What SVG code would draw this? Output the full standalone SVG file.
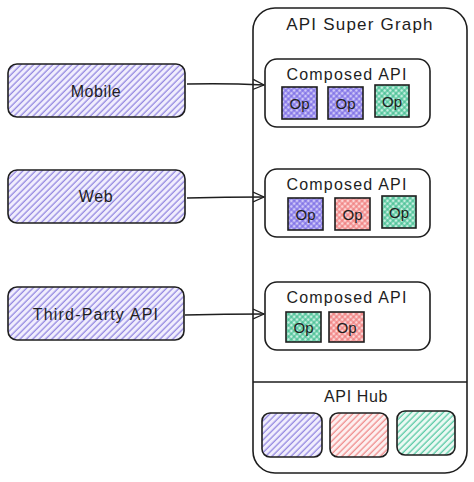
<svg xmlns="http://www.w3.org/2000/svg" width="474" height="482" viewBox="0 0 474 482">
<defs>
<pattern id="hP" width="4.5" height="4.5" patternUnits="userSpaceOnUse" patternTransform="rotate(45)"><rect width="4.5" height="4.5" fill="#f1eefd"/><line x1="2" y1="0" x2="2" y2="4.5" stroke="#8a7ede" stroke-width="1.2"/></pattern>
<pattern id="hR" width="4.5" height="4.5" patternUnits="userSpaceOnUse" patternTransform="rotate(45)"><rect width="4.5" height="4.5" fill="#fdf0f0"/><line x1="2" y1="0" x2="2" y2="4.5" stroke="#ee8484" stroke-width="1.2"/></pattern>
<pattern id="hG" width="4.5" height="4.5" patternUnits="userSpaceOnUse" patternTransform="rotate(45)"><rect width="4.5" height="4.5" fill="#ebf9f3"/><line x1="2" y1="0" x2="2" y2="4.5" stroke="#4cc59e" stroke-width="1.2"/></pattern>
<pattern id="xP" width="4" height="4" patternUnits="userSpaceOnUse" patternTransform="rotate(45)"><rect width="4" height="4" fill="#cfc8f7"/><path d="M2 0V4M0 2H4" stroke="#6f5fe3" stroke-width="1.1"/></pattern>
<pattern id="xR" width="4" height="4" patternUnits="userSpaceOnUse" patternTransform="rotate(45)"><rect width="4" height="4" fill="#fcd6d6"/><path d="M2 0V4M0 2H4" stroke="#ee7070" stroke-width="1.1"/></pattern>
<pattern id="xG" width="4" height="4" patternUnits="userSpaceOnUse" patternTransform="rotate(45)"><rect width="4" height="4" fill="#c6efe0"/><path d="M2 0V4M0 2H4" stroke="#33b887" stroke-width="1.1"/></pattern>
<marker id="arr" viewBox="0 0 12 12" refX="11" refY="6" markerWidth="12" markerHeight="12" markerUnits="userSpaceOnUse" orient="auto"><path d="M0 1 L11 6 L0 11" fill="none" stroke="#1e1e1e" stroke-width="1.3"/></marker>
</defs>
<style>
.b{stroke:#1e1e1e;stroke-width:1.6;}
.t{font-family:"Liberation Sans",Arial,sans-serif;fill:#1e1e1e;text-anchor:middle;dominant-baseline:central;letter-spacing:0.6px;}
.l{font-size:16px;}
.o{font-size:15px;letter-spacing:0;}
.c{fill:none;stroke:#1e1e1e;stroke-width:1.5;}
</style>
<rect width="474" height="482" fill="#ffffff"/>
<g id="supergraph">
<rect class="b" x="253" y="8" width="214" height="465" rx="22" fill="#ffffff"/>
<text class="t" x="360" y="24" font-size="17" style="letter-spacing:1.2px">API Super Graph</text>
</g>
<g id="hub">
<line class="b" x1="253" y1="382" x2="467" y2="382"/>
<text class="t l" x="356" y="396">API Hub</text>
<rect class="b" x="262" y="413" width="60" height="44" rx="8" fill="url(#hP)"/>
<rect class="b" x="330" y="413" width="58" height="44" rx="8" fill="url(#hR)"/>
<rect class="b" x="397" y="411" width="58" height="44" rx="8" fill="url(#hG)"/>
</g>
<g id="mobile">
<rect class="b" x="8" y="64" width="177" height="53" rx="9" fill="url(#hP)"/>
<text class="t l" x="96" y="91">Mobile</text>
</g>
<g id="web">
<rect class="b" x="8" y="170" width="177" height="53" rx="9" fill="url(#hP)"/>
<text class="t l" x="96" y="196">Web</text>
</g>
<g id="thirdparty">
<rect class="b" x="8" y="287" width="176" height="53" rx="9" fill="url(#hP)"/>
<text class="t l" x="96" y="314" style="letter-spacing:1.2px">Third-Party API</text>
</g>
<g id="composed1">
<rect class="b" x="265" y="59" width="165" height="68" rx="12" fill="#ffffff"/>
<text class="t l" x="347" y="74" style="letter-spacing:1.2px">Composed API</text>
<rect class="b" x="282" y="87" width="35" height="32" fill="url(#xP)"/>
<text class="t o" x="299.5" y="103">Op</text>
<rect class="b" x="328" y="87" width="35" height="32" fill="url(#xP)"/>
<text class="t o" x="345.5" y="103">Op</text>
<rect class="b" x="375" y="85" width="34" height="32" fill="url(#xG)"/>
<text class="t o" x="392" y="101">Op</text>
</g>
<g id="composed2">
<rect class="b" x="265" y="169" width="165" height="68" rx="12" fill="#ffffff"/>
<text class="t l" x="347" y="184" style="letter-spacing:1.2px">Composed API</text>
<rect class="b" x="288" y="198" width="35" height="32" fill="url(#xP)"/>
<text class="t o" x="305.5" y="214">Op</text>
<rect class="b" x="335" y="198" width="35" height="32" fill="url(#xR)"/>
<text class="t o" x="352.5" y="214">Op</text>
<rect class="b" x="382" y="196" width="34" height="32" fill="url(#xG)"/>
<text class="t o" x="399" y="212">Op</text>
</g>
<g id="composed3">
<rect class="b" x="265" y="282" width="165" height="68" rx="12" fill="#ffffff"/>
<text class="t l" x="347" y="297" style="letter-spacing:1.2px">Composed API</text>
<rect class="b" x="286" y="312" width="35" height="30" fill="url(#xG)"/>
<text class="t o" x="303.5" y="327">Op</text>
<rect class="b" x="329" y="312" width="35" height="30" fill="url(#xR)"/>
<text class="t o" x="346.5" y="327">Op</text>
</g>
<g id="connectors">
<path class="c" d="M187 84 Q225 83 264 85" marker-end="url(#arr)"/>
<path class="c" d="M187 198 Q225 197 264 197" marker-end="url(#arr)"/>
<path class="c" d="M185 315 Q225 314 264 314" marker-end="url(#arr)"/>
</g>
</svg>
